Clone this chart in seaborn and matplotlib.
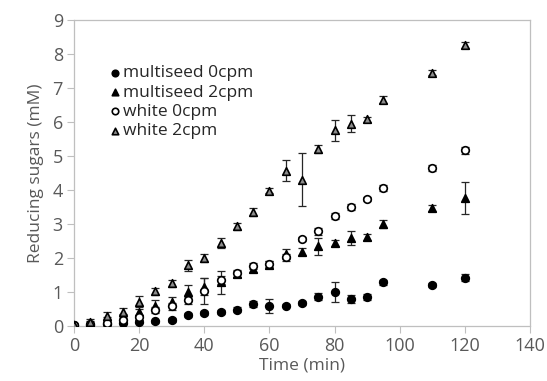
import numpy as np
import pandas as pd
import matplotlib
matplotlib.use("Agg")
import matplotlib.pyplot as plt
import seaborn as sns

# ---------------------------------------------------------------------------
# Data
# ---------------------------------------------------------------------------
TIME = [0, 5, 10, 15, 20, 25, 30, 35, 40, 45, 50, 55, 60, 65, 70, 75, 80, 85, 90, 95, 110, 120]

MULTI_0 = [0.02, 0.04, 0.07, 0.10, 0.13, 0.14, 0.18, 0.32, 0.37, 0.42, 0.48, 0.65, 0.58, 0.60,
           0.68, 0.86, 1.00, 0.80, 0.85, 1.28, 1.20, 1.42]
MULTI_0_ERR = [0.03, 0.05, 0.05, 0.05, 0.05, 0.05, 0.05, 0.05, 0.06, 0.06, 0.08, 0.08, 0.20, 0.05,
               0.05, 0.10, 0.28, 0.12, 0.08, 0.06, 0.06, 0.10]

MULTI_2 = [0.02, 0.08, 0.18, 0.28, 0.40, 0.60, 0.70, 1.00, 1.15, 1.28, 1.53, 1.68, 1.80, 2.12,
           2.18, 2.35, 2.44, 2.58, 2.62, 3.00, 3.47, 3.76]
MULTI_2_ERR = [0.03, 0.08, 0.08, 0.08, 0.10, 0.15, 0.15, 0.20, 0.25, 0.35, 0.10, 0.08, 0.10, 0.15,
               0.10, 0.25, 0.08, 0.20, 0.08, 0.12, 0.10, 0.47]

WHITE_0 = [0.02, 0.05, 0.10, 0.18, 0.25, 0.47, 0.58, 0.76, 1.02, 1.36, 1.55, 1.76, 1.82, 2.02,
           2.56, 2.78, 3.24, 3.50, 3.74, 4.06, 4.65, 5.17]
WHITE_0_ERR = [0.03, 0.05, 0.05, 0.08, 0.08, 0.10, 0.10, 0.10, 0.38, 0.12, 0.10, 0.08, 0.08, 0.10,
               0.06, 0.10, 0.08, 0.08, 0.06, 0.08, 0.08, 0.10]

WHITE_2 = [0.02, 0.12, 0.30, 0.42, 0.72, 1.02, 1.26, 1.78, 2.00, 2.43, 2.93, 3.35, 3.98, 4.57,
           4.30, 5.20, 5.75, 5.95, 6.08, 6.66, 7.45, 8.27]
WHITE_2_ERR = [0.03, 0.08, 0.12, 0.10, 0.15, 0.10, 0.10, 0.15, 0.12, 0.15, 0.10, 0.12, 0.08, 0.30,
               0.78, 0.12, 0.30, 0.25, 0.08, 0.10, 0.08, 0.08]

SERIES = ["multiseed 0cpm", "multiseed 2cpm", "white 0cpm", "white 2cpm"]
MARKERS = {"multiseed 0cpm": "o", "multiseed 2cpm": "^", "white 0cpm": "o", "white 2cpm": "^"}
FACES = {"multiseed 0cpm": "black", "multiseed 2cpm": "black", "white 0cpm": "white", "white 2cpm": "#8c8c8c"}

# ---------------------------------------------------------------------------
# Build long-form frame
# ---------------------------------------------------------------------------
values = [MULTI_0, MULTI_2, WHITE_0, WHITE_2]
errors = [MULTI_0_ERR, MULTI_2_ERR, WHITE_0_ERR, WHITE_2_ERR]
df = pd.concat(
    [pd.DataFrame({"time": TIME, "sugar": v, "err": e, "sample": name})
     for name, v, e in zip(SERIES, values, errors)],
    ignore_index=True,
)

sns.set_style("white")
plt.rcParams["font.family"] = ["Open Sans", "DejaVu Sans"]

fig = plt.figure(figsize=(5.47, 3.81), dpi=100)
ax = fig.add_axes([0.1353, 0.1444, 0.8337, 0.8031])

GRAY = "#595959"

# error bars first, then markers on top
for name in SERIES:
    sub = df[df["sample"] == name]
    ax.errorbar(sub["time"], sub["sugar"], yerr=sub["err"], fmt="none",
                ecolor="#262626", elinewidth=0.9, capsize=3, capthick=0.9, zorder=2)

for name in SERIES:
    sub = df[df["sample"] == name]
    sns.scatterplot(data=sub, x="time", y="sugar", marker=MARKERS[name], color=FACES[name],
                    edgecolor="black", linewidth=1.2, s=30, ax=ax, label=name, zorder=3)

ax.set_xlim(0, 140)
ax.set_ylim(0, 9)
ax.set_xticks(range(0, 141, 20))
ax.set_yticks(range(0, 10))
ax.set_xlabel("Time (min)", fontsize=12.5, color=GRAY, labelpad=2)
ax.set_ylabel("Reducing sugars (mM)", fontsize=12.5, color=GRAY, labelpad=6)
ax.tick_params(axis="both", labelsize=13, colors=GRAY, length=5, width=0.8, direction="out",
               bottom=True, left=True, color="#bfbfbf", pad=3)
for sp in ax.spines.values():
    sp.set_color("#bfbfbf")
    sp.set_linewidth(0.9)

leg = ax.legend(loc="upper left", bbox_to_anchor=(0.055, 0.875), frameon=False, fontsize=12.5,
                handletextpad=0.0, labelspacing=0.18, borderaxespad=0, handlelength=1.0,
                markerscale=0.85)
for t in leg.get_texts():
    t.set_color("#262626")

fig.savefig("out.png", dpi=100)
